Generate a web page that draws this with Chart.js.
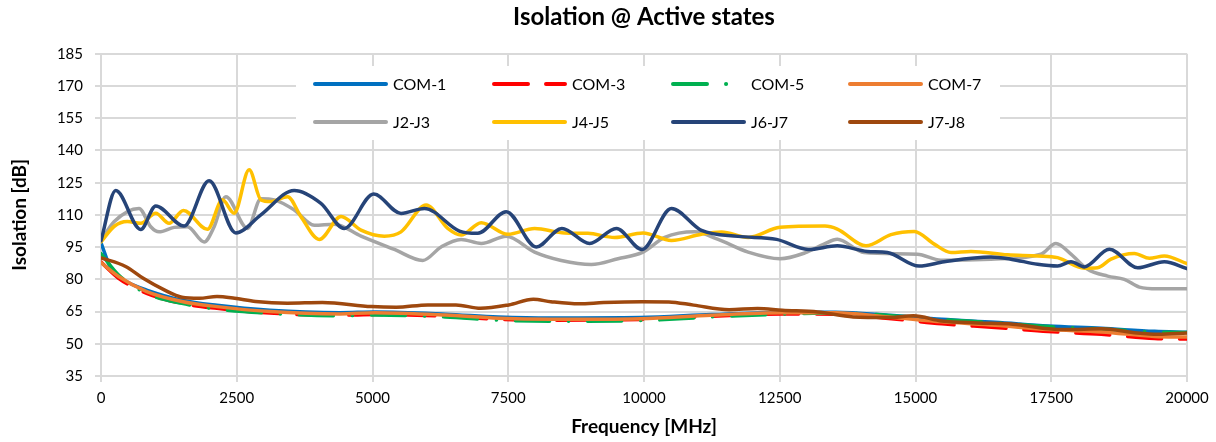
<!DOCTYPE html>
<html>
<head>
<meta charset="utf-8">
<script src="https://cdn.jsdelivr.net/npm/chart.js@4.4.1/dist/chart.umd.min.js"></script>
<style>
  body { margin: 0; background: #fff; }
  canvas { display: block; }
</style>
</head>
<body>
<canvas id="graph1" width="1216" height="442"></canvas>
<script>
// values (frequency in MHz, isolation in dB)
const seriesNames = ['COM-1', 'COM-3', 'COM-5', 'COM-7', 'J2-J3', 'J4-J5', 'J6-J7', 'J7-J8'];

const freqCom1 = [0, 200, 500, 841, 1489, 2136, 3106, 4401, 5048, 6343, 7314, 8284, 9935, 11240, 12547, 13527, 14506, 15485, 16465, 17444, 18424, 19403, 20000];
const valCom1 = [97, 84, 78.5, 75, 70.3, 67.9, 65.6, 64.5, 64.8, 63.8, 62.5, 62, 62.2, 63.6, 64.6, 64.7, 63.3, 61.4, 60, 58.3, 57.2, 55.8, 55.4];

const freqCom = [0, 324, 841, 1489, 2136, 3106, 4401, 5048, 6343, 7314, 8284, 9935, 11240, 12547, 13527, 14506, 15485, 16465, 17444, 18424, 19403, 20000];
const valCom3 = [88, 80.5, 73.5, 68.8, 66.5, 64.3, 63.3, 63.6, 62.8, 61.4, 61, 61.3, 62.8, 63.9, 63.8, 61.8, 59.3, 57.6, 55.7, 54.4, 52.5, 52.2];
const valCom5 = [92, 82, 73.5, 68.8, 66.2, 64.2, 63, 63.4, 62.5, 61, 60.5, 60.8, 62.5, 63.8, 64.3, 63.2, 61.2, 59.8, 58, 56.9, 55.5, 55.2];
const valCom7 = [87.8, 81.3, 74.3, 69.7, 67.3, 65, 63.9, 64.5, 63.4, 61.9, 61.4, 61.7, 63.3, 64.4, 64.4, 62.5, 60.2, 58.6, 56.6, 55.5, 53.4, 53.1];

const freqJ23 = [0, 240, 700, 916, 1070, 1346, 1592, 1899, 2084, 2299, 2698, 2945, 3190, 3559, 3928, 4297, 4789, 5403, 5925, 6264, 6632, 7002, 7462, 7985, 8477, 9030, 9521, 9982, 10382, 10935, 11365, 11918, 12503, 12963, 13314, 13560, 14052, 15035, 15466, 16388, 17309, 17586, 17863, 18170, 18539, 18846, 19123, 19460, 20000];
const valJ23 = [98, 106.8, 113, 104.5, 102.1, 104.2, 104.5, 97.4, 104.5, 118.5, 103.7, 117.5, 117, 112.3, 105.2, 105.7, 100.1, 93.9, 88.8, 95.1, 98.6, 96.7, 100.1, 92.7, 88.8, 86.9, 89.6, 92.7, 99.5, 102.1, 98.6, 92.7, 89.6, 92.3, 96.4, 98.7, 92.5, 91.7, 88.9, 89.4, 91.7, 96.7, 91.7, 84.7, 81.5, 80, 76.4, 75.6, 75.6];

const freqJ45 = [0, 240, 485, 732, 1008, 1254, 1518, 1960, 2237, 2452, 2729, 2945, 3129, 3436, 3682, 4020, 4420, 4789, 5218, 5525, 5988, 6386, 6632, 7002, 7493, 7985, 8538, 8968, 9460, 9982, 10505, 11059, 11427, 11918, 12503, 13332, 13560, 14088, 14548, 14978, 15346, 15654, 16022, 16696, 17248, 17617, 18109, 18355, 18601, 19030, 19307, 19583, 20000];
const valJ45 = [97.4, 104.6, 106.9, 106.1, 110.8, 106.1, 112.1, 103.3, 117, 110.8, 131, 117, 116.2, 118.5, 109.2, 98.6, 109.2, 102.9, 100.1, 102.1, 114.6, 103.7, 100.6, 106.4, 101, 103.7, 101.6, 101.4, 99.5, 101.6, 98.1, 101, 102, 99.5, 104.2, 104.8, 103.4, 95.6, 100.8, 102.3, 96.4, 92.5, 93, 91.4, 90.9, 90.1, 85.2, 85.4, 89.4, 92, 89.8, 90.9, 87.3];

const freqJ67 = [0, 271, 732, 1008, 1530, 1991, 2483, 2944, 3558, 4050, 4480, 5022, 5525, 5956, 6600, 6939, 7462, 8016, 8488, 8999, 9491, 9963, 10505, 11059, 11734, 12441, 13024, 13560, 14113, 14482, 15067, 15528, 16388, 16757, 17248, 17617, 17863, 18109, 18570, 19092, 19583, 20000];
const valJ67 = [98, 121.4, 103.2, 114.2, 104.8, 125.9, 101.6, 110, 121.4, 115.4, 103.7, 119.7, 110.7, 113, 102.5, 101.4, 111.5, 95.1, 103.7, 96.7, 103.7, 93.9, 113, 102.8, 100, 98.6, 93.9, 95.6, 93, 92.5, 86.2, 88.2, 90.4, 89.4, 87, 86.2, 88.2, 85.8, 94, 85.4, 88.2, 85];

const freqJ78 = [0, 453, 777, 1165, 1489, 1812, 2136, 2459, 2848, 3430, 4077, 4983, 5437, 6020, 6537, 6990, 7508, 7961, 8284, 8802, 9255, 9967, 10457, 10914, 11567, 12090, 12547, 13200, 13853, 14506, 14963, 15485, 16138, 16791, 17444, 17771, 18424, 19077, 19468, 20000];
const valJ78 = [90, 86, 80.5, 75.1, 71.7, 71.2, 72, 71.2, 69.7, 68.9, 69.2, 67.3, 67, 68.1, 68.1, 66.5, 68.1, 70.7, 69.6, 68.6, 69.2, 69.6, 69.5, 68, 65.9, 66.4, 65.6, 64.8, 62.5, 62.2, 63, 60.6, 59.7, 59.1, 57, 56.6, 57, 55, 54.4, 55];

const xTickStep = 2500;
const yMin = 35, yMax = 185, yTickStep = 15;

const colors = ['#0070C0', '#FF0000', '#00B050', '#ED7D31', '#A5A5A5', '#FFC000', '#264478', '#9E480E'];
const dashes = [[], [34, 18], [34, 19, 0.1, 19], [], [], [], [], []];
const allFreqs = [freqCom1, freqCom, freqCom, freqCom, freqJ23, freqJ45, freqJ67, freqJ78];
const allVals = [valCom1, valCom3, valCom5, valCom7, valJ23, valJ45, valJ67, valJ78];

function points(f, v) {
    const out = [];
    for (let i = 0; i < f.length; i++) {
        out.push({x: f[i], y: v[i]});
    }
    return out;
}

const datasets = [];
for (let s = 0; s < seriesNames.length; s++) {
    datasets.push({
        label: seriesNames[s],
        data: points(allFreqs[s], allVals[s]),
        borderColor: colors[s],
        backgroundColor: colors[s],
        borderWidth: 3.5,
        borderDash: dashes[s],
        borderCapStyle: 'round',
        borderJoinStyle: 'round',
        cubicInterpolationMode: 'monotone',
        pointRadius: 0,
        order: seriesNames.length - s   // later series on top, like the original
    });
}

const FONT = 'Lato, "Open Sans", sans-serif';
const gridColor = '#d9d9d9';

// legend sits inside the plot on a white box, 2 rows of 4
const insideLegend = {
    id: 'insideLegend',
    afterDraw(chart) {
        const c = chart.ctx;
        c.save();
        c.fillStyle = '#ffffff';
        c.fillRect(296, 66, 704, 74);
        const colX = [315, 494, 673, 850];
        const rowY = [84, 122];
        c.font = '16px ' + FONT;
        c.textBaseline = 'middle';
        c.textAlign = 'left';
        for (let i = 0; i < datasets.length; i++) {
            const x = colX[i % 4];
            const y = rowY[Math.floor(i / 4)];
            c.beginPath();
            c.strokeStyle = colors[i];
            c.lineWidth = 4;
            c.lineCap = 'round';
            c.setLineDash(dashes[i]);
            c.moveTo(x, y);
            c.lineTo(x + 71, y);
            c.stroke();
            c.setLineDash([]);
            c.fillStyle = '#000000';
            c.fillText(seriesNames[i], x + 78, y + 1);
        }
        c.restore();
    }
};

new Chart(document.getElementById('graph1'), {
    type: 'line',
    data: {datasets: datasets},
    plugins: [insideLegend],
    options: {
        responsive: false,
        animation: false,
        layout: {padding: {left: 8, right: 29, top: 0, bottom: 4}},
        plugins: {
            legend: {display: false},
            tooltip: {enabled: false},
            title: {
                display: true,
                fullSize: false,
                text: 'Isolation @ Active states',
                color: '#000',
                font: {family: FONT, size: 24, weight: 'bold'},
                padding: {top: 3, bottom: 22}
            }
        },
        scales: {
            x: {
                type: 'linear',
                min: 0,
                max: 20000,
                ticks: {
                    stepSize: xTickStep,
                    color: '#000',
                    font: {family: FONT, size: 15},
                    padding: 7,
                    maxRotation: 0,
                    callback: v => String(v)
                },
                grid: {color: gridColor, lineWidth: 2, tickLength: 6},
                border: {color: gridColor, width: 2},
                title: {
                    display: true,
                    text: 'Frequency [MHz]',
                    color: '#000',
                    font: {family: FONT, size: 19, weight: 'bold'},
                    padding: {top: 0, bottom: 0}
                },
                afterFit(s) { s.height = 62; }
            },
            y: {
                min: yMin,
                max: yMax,
                ticks: {
                    stepSize: yTickStep,
                    color: '#000',
                    font: {family: FONT, size: 15},
                    padding: 12
                },
                grid: {color: gridColor, lineWidth: 2, tickLength: 6},
                border: {color: gridColor, width: 2},
                title: {
                    display: true,
                    text: 'Isolation [dB]',
                    color: '#000',
                    font: {family: FONT, size: 19, weight: 'bold'},
                    padding: {top: 0, bottom: 0}
                },
                afterFit(s) { s.width = 93; }
            }
        }
    }
});
</script>
</body>
</html>
